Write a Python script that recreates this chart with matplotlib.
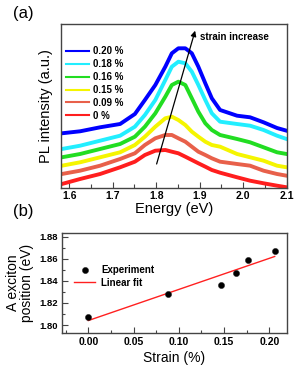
import numpy as np
import matplotlib
matplotlib.use("Agg")
import matplotlib.pyplot as plt
from matplotlib.ticker import MultipleLocator

plt.rcParams['font.family'] = ['Liberation Sans', 'DejaVu Sans']

# ---- Panel (a): PL spectra (arbitrary units) ----
energy = [1.583, 1.625, 1.671, 1.717, 1.751, 1.774, 1.798, 1.821, 1.836, 1.851, 1.867,
          1.882, 1.897, 1.913, 1.928, 1.947, 1.986, 2.016, 2.047, 2.078, 2.100]
pl_020 = [54.7, 56.7, 60.7, 64.0, 74.0, 88.0, 103.0, 121.3, 134.7, 139.7, 139.7,
          134.7, 121.3, 104.7, 89.7, 78.0, 72.3, 70.7, 65.7, 60.0, 57.3]
pl_018 = [39.0, 42.3, 47.3, 52.3, 61.3, 73.0, 88.0, 108.0, 121.3, 126.3, 124.7,
          116.3, 103.0, 88.0, 74.7, 66.3, 64.0, 62.3, 58.0, 52.3, 49.0]
pl_016 = [30.7, 34.0, 39.0, 44.0, 51.3, 61.3, 74.7, 91.3, 103.0, 106.3, 103.0,
          89.7, 76.3, 64.7, 58.0, 53.0, 49.0, 45.7, 40.7, 35.7, 34.0]
pl_015 = [22.3, 25.7, 30.7, 35.7, 43.0, 51.3, 61.3, 69.7, 71.3, 68.0, 63.0,
          56.3, 51.3, 46.3, 43.0, 41.3, 34.0, 30.7, 27.3, 22.3, 20.7]
pl_009 = [14.0, 17.3, 22.3, 29.0, 34.7, 43.0, 49.7, 53.0, 53.0, 49.7, 46.3,
          41.3, 36.3, 33.0, 29.7, 26.3, 24.0, 22.3, 17.3, 14.0, 12.3]
pl_000 = [4.0, 9.0, 14.0, 20.7, 26.3, 33.0, 37.3, 38.0, 36.3, 34.7, 31.3,
          28.0, 24.7, 21.3, 18.0, 15.3, 10.7, 7.3, 4.7, 2.3, 0.7]
series_labels = ['0.20 %', '0.18 %', '0.16 %', '0.15 %', '0.09 %', '0 %']
series_colors = ['#0000FF', '#22EEFF', '#22DD22', '#F5F500', '#E8604A', '#FF1E1E']
xticks_a = [1.6, 1.7, 1.8, 1.9, 2.0, 2.1]

# ---- Panel (b): exciton position vs strain ----
strain = [0.000, 0.088, 0.147, 0.163, 0.177, 0.206]
exciton = [1.807, 1.828, 1.8365, 1.8474, 1.8589, 1.8667]
xticks_b = [0.00, 0.05, 0.10, 0.15, 0.20]
yticks_b = [1.80, 1.82, 1.84, 1.86, 1.88]

fig = plt.figure(figsize=(3.01, 3.81), dpi=100)

frame_col = '#444444'

# Panel (a)
ax1 = fig.add_axes([0.2027, 0.5066, 0.7508, 0.4304])
spectra = [pl_020, pl_018, pl_016, pl_015, pl_009, pl_000]
for ys, lab, col in zip(spectra, series_labels, series_colors):
    ax1.plot(energy, ys, color=col, lw=2.8, label=lab, solid_joinstyle='round')
ax1.set_xlim(1.581, 2.101)
ax1.set_ylim(0, 164)
ax1.set_yticks([])
ax1.set_xticks(xticks_a)
ax1.set_xticklabels([f'{v:.1f}' for v in xticks_a], fontsize=7.5, fontweight='bold')
ax1.xaxis.set_minor_locator(MultipleLocator(0.05))
ax1.tick_params(axis='x', which='both', direction='in', length=3, width=0.8,
                color=frame_col, pad=2)
ax1.tick_params(axis='x', which='major', length=4)
for s in ax1.spines.values():
    s.set_color(frame_col)
    s.set_linewidth(1.0)
ax1.set_xlabel('Energy (eV)', fontsize=10.5, labelpad=1)
ax1.set_ylabel('PL intensity (a.u.)', fontsize=10.5, labelpad=6)
leg = ax1.legend(loc='upper left', bbox_to_anchor=(-0.005, 0.90), frameon=False,
                 prop={'size': 7, 'weight': 'bold'}, handlelength=2.4,
                 handletextpad=0.4, labelspacing=0.3, borderaxespad=0.2)
for h in leg.get_lines():
    h.set_linewidth(1.5)
ax1.annotate('', xy=(1.8896, 157.3), xytext=(1.801, 24),
             arrowprops=dict(arrowstyle='-|>', color='black', lw=0.9,
                             mutation_scale=8, shrinkA=0, shrinkB=0))
ax1.text(1.900, 150.7, 'strain increase', fontsize=7, fontweight='bold',
         ha='left', va='center')
fig.text(0.043, 0.965, '(a)', fontsize=12, ha='left', va='center')

# Panel (b)
ax2 = fig.add_axes([0.206, 0.126, 0.7475, 0.2625])
ax2.scatter(strain, exciton, s=20, color='black', zorder=3, label='Experiment',
            edgecolors='#222222', linewidths=0.3)
coef = np.polyfit(strain, exciton, 1)
fit_x = np.array([strain[0], strain[-1]])
ax2.plot(fit_x, np.polyval(coef, fit_x), color='#FF2020', lw=1.0, label='Linear fit')
ax2.set_xlim(-0.0291, 0.2196)
ax2.set_ylim(1.7928, 1.8834)
ax2.set_xticks(xticks_b)
ax2.set_xticklabels([f'{v:.2f}' for v in xticks_b], fontsize=7.5, fontweight='bold')
ax2.set_yticks(yticks_b)
ax2.set_yticklabels([f'{v:.2f}' for v in yticks_b], fontsize=6.8, fontweight='bold')
ax2.xaxis.set_minor_locator(MultipleLocator(0.025))
ax2.yaxis.set_minor_locator(MultipleLocator(0.01))
ax2.tick_params(axis='both', which='both', direction='in', length=2.5, width=0.8,
                color=frame_col, pad=3)
ax2.tick_params(axis='both', which='major', length=4)
for s in ax2.spines.values():
    s.set_color(frame_col)
    s.set_linewidth(1.0)
ax2.set_xlabel('Strain (%)', fontsize=10, labelpad=3)
ax2.set_ylabel('A exciton\nposition (eV)', fontsize=10, labelpad=4, linespacing=1.0)
ax2.legend(loc='upper left', bbox_to_anchor=(0.027, 0.74), frameon=False,
           prop={'size': 7, 'weight': 'bold'}, handlelength=2.2,
           handletextpad=0.6, labelspacing=0.3, borderaxespad=0.2)
fig.text(0.043, 0.444, '(b)', fontsize=12, ha='left', va='center')

fig.savefig('out.png', dpi=100)
